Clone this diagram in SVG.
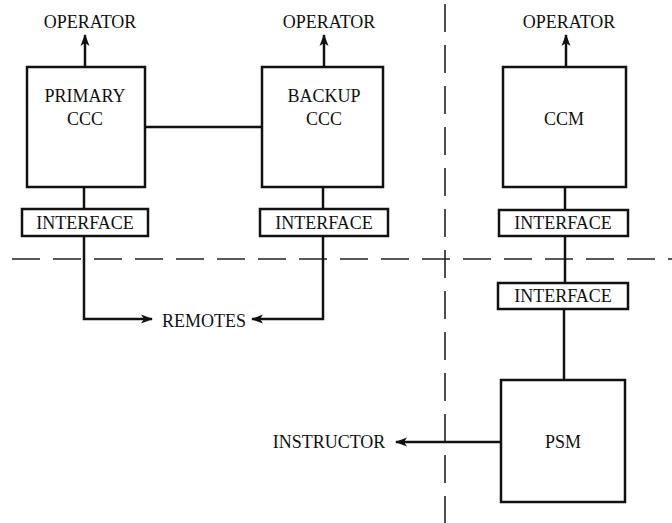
<svg xmlns="http://www.w3.org/2000/svg" width="672" height="523" viewBox="0 0 672 523">
<style>
.box{fill:#fff;stroke:#111;stroke-width:2.5}
.ln{fill:none;stroke:#111;stroke-width:2.5}
.dash{fill:none;stroke:#222;stroke-width:1.6;stroke-dasharray:28 13}
text{font-family:"Liberation Serif",serif;font-size:18px;fill:#111;text-anchor:middle}
</style>
<defs>
<marker id="ah" markerWidth="12" markerHeight="10" refX="11" refY="5" orient="auto" markerUnits="userSpaceOnUse">
<path d="M0,0.5 L12,5 L0,9.5 L3,5 Z" fill="#111"/>
</marker>
</defs>
<rect width="672" height="523" fill="#fff"/>
<g id="dividers">
<line class="dash" x1="12" y1="259" x2="672" y2="259"/>
<line class="dash" x1="445" y1="4" x2="445" y2="523"/>
</g>
<g id="connectors">
<line class="ln" x1="85" y1="67" x2="85" y2="35" marker-end="url(#ah)"/>
<line class="ln" x1="324" y1="67" x2="324" y2="35" marker-end="url(#ah)"/>
<line class="ln" x1="566" y1="67" x2="566" y2="35" marker-end="url(#ah)"/>
<line class="ln" x1="145" y1="127" x2="262" y2="127"/>
<line class="ln" x1="84" y1="187" x2="84" y2="209"/>
<line class="ln" x1="323" y1="187" x2="323" y2="209"/>
<line class="ln" x1="565" y1="187" x2="565" y2="210"/>
<polyline class="ln" points="84,236 84,319 152,319" marker-end="url(#ah)"/>
<polyline class="ln" points="323,236 323,319 252,319" marker-end="url(#ah)"/>
<line class="ln" x1="565" y1="236" x2="565" y2="283"/>
<line class="ln" x1="564" y1="309" x2="564" y2="380"/>
<line class="ln" x1="501" y1="442" x2="396" y2="442" marker-end="url(#ah)"/>
</g>
<g id="op1"><text x="90" y="28">OPERATOR</text></g>
<g id="op2"><text x="329" y="28">OPERATOR</text></g>
<g id="op3"><text x="569" y="28">OPERATOR</text></g>
<g id="primary"><rect class="box" x="27" y="67" width="118" height="120"/><text x="85" y="102">PRIMARY</text><text x="85" y="125">CCC</text></g>
<g id="backup"><rect class="box" x="262" y="67" width="121" height="120"/><text x="324" y="102">BACKUP</text><text x="324" y="125">CCC</text></g>
<g id="ccm"><rect class="box" x="503" y="67" width="123" height="120"/><text x="564" y="125">CCM</text></g>
<g id="if1"><rect class="box" x="22" y="209" width="126" height="27"/><text x="85" y="229">INTERFACE</text></g>
<g id="if2"><rect class="box" x="260" y="209" width="128" height="27"/><text x="324" y="229">INTERFACE</text></g>
<g id="if3"><rect class="box" x="499" y="210" width="129" height="26"/><text x="563" y="229">INTERFACE</text></g>
<g id="if4"><rect class="box" x="498" y="283" width="130" height="26"/><text x="563" y="302">INTERFACE</text></g>
<g id="remotes"><text x="204" y="327">REMOTES</text></g>
<g id="psm"><rect class="box" x="501" y="380" width="124" height="122"/><text x="563" y="448">PSM</text></g>
<g id="instructor"><text x="329" y="448">INSTRUCTOR</text></g>
</svg>
